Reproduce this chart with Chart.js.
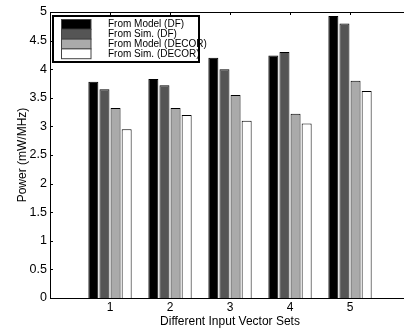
<!DOCTYPE html>
<html>
<head>
<meta charset="utf-8">
<script src="https://cdn.jsdelivr.net/npm/chart.js@4.4.0/dist/chart.umd.min.js"></script>
<style>
  html, body { margin: 0; padding: 0; background: #fff; overflow: hidden; }
  #wrap { width: 420px; height: 329px; }
</style>
</head>
<body>
<div id="wrap"><canvas id="canvasBar" width="420" height="329"></canvas></div>
<script>
// categories (x axis runs 0..6, so empty slots on both ends)
var categories = ['1', '2', '3', '4', '5'];
var seriesNames = ['From Model (DF)', 'From Sim. (DF)', 'From Model (DECOR)', 'From Sim. (DECOR)'];
var modelDF    = [3.78, 3.83, 4.20, 4.24, 4.93];
var simDF      = [3.65, 3.72, 4.00, 4.30, 4.80];
var modelDECOR = [3.32, 3.32, 3.55, 3.22, 3.80];
var simDECOR   = [2.95, 3.20, 3.10, 3.05, 3.62];
var yTicks = [0, 0.5, 1, 1.5, 2, 2.5, 3, 3.5, 4, 4.5, 5];

var fills = ['#000000', '#555555', '#aaaaaa', '#ffffff'];
var FONT = "'Liberation Sans', Arial, sans-serif";

function pad(arr) { return [null].concat(arr, [null]); }
var labels = [''].concat(categories, ['']);

// matlab style frame with inward ticks
var framePlugin = {
  id: 'frame',
  afterDatasetsDraw: function(chart) {
    var c = chart.ctx, a = chart.chartArea;
    var xs = chart.scales.x, ys = chart.scales.y;
    c.save();
    c.strokeStyle = '#000';
    c.lineWidth = 1;
    c.beginPath();
    c.moveTo(a.left + 0.5, a.top + 0.5); c.lineTo(a.left + 0.5, a.bottom + 0.5);
    c.moveTo(a.left, a.bottom + 0.5); c.lineTo(a.right, a.bottom + 0.5);
    c.moveTo(a.left, a.top + 0.5); c.lineTo(a.right, a.top + 0.5);
    c.moveTo(a.right - 0.5, a.top); c.lineTo(a.right - 0.5, a.bottom);
    yTicks.forEach(function(v) {
      var y = Math.round(ys.getPixelForValue(v)) + 0.5;
      c.moveTo(a.left, y); c.lineTo(a.left + 3, y);
      c.moveTo(a.right, y); c.lineTo(a.right - 3, y);
    });
    for (var i = 1; i <= categories.length; i++) {
      var x = Math.round(xs.getPixelForValue(i)) + 0.5;
      c.moveTo(x, a.top); c.lineTo(x, a.top + 3);
    }
    c.stroke();
    c.restore();
  },
  afterDraw: function(chart) {
    // legend box inside the plot
    var c = chart.ctx;
    var bx = 53, by = 16, bw = 146, bh = 46;
    c.save();
    c.fillStyle = '#fff';
    c.fillRect(bx, by, bw, bh);
    c.strokeStyle = '#000';
    c.lineWidth = 2;
    c.strokeRect(bx, by, bw, bh);
    c.font = '10px ' + FONT;
    c.textBaseline = 'middle';
    c.textAlign = 'left';
    chart.data.datasets.forEach(function(ds, i) {
      var sy = 19.5 + i * 9.8;
      c.fillStyle = ds.backgroundColor;
      c.fillRect(61.5, sy, 29.5, 9.8);
      c.strokeStyle = '#444';
      c.lineWidth = 1;
      c.strokeRect(61.5, sy, 29.5, 9.8);
      c.fillStyle = '#000';
      c.fillText(ds.label, 108, sy + 5.2);
    });
    c.restore();
  }
};

var ctx = document.getElementById('canvasBar').getContext('2d');
var barChart = new Chart(ctx, {
  type: 'bar',
  data: {
    labels: labels,
    datasets: [modelDF, simDF, modelDECOR, simDECOR].map(function(d, i) {
      return {
        label: seriesNames[i],
        data: pad(d),
        backgroundColor: fills[i],
        borderColor: '#000',
        borderWidth: 1,
        borderSkipped: 'start',
        categoryPercentage: 0.74,
        barPercentage: 0.9
      };
    })
  },
  plugins: [framePlugin],
  options: {
    responsive: false,
    animation: false,
    layout: { padding: { top: 12, right: 10, left: 0, bottom: 0 } },
    plugins: {
      legend: { display: false },
      tooltip: { enabled: false }
    },
    scales: {
      x: {
        offset: false,
        grid: { display: false, drawTicks: false },
        border: { display: false },
        ticks: { color: '#000', font: { family: FONT, size: 12 }, padding: 2, maxRotation: 0, autoSkip: false },
        title: { display: true, text: 'Different Input Vector Sets', color: '#000',
                 font: { family: FONT, size: 12 }, padding: { top: 0, bottom: 0 } },
        afterFit: function(s) { s.height = 31; }
      },
      y: {
        min: 0,
        max: 5,
        grid: { display: false, drawTicks: false },
        border: { display: false },
        afterBuildTicks: function(s) { s.ticks = yTicks.map(function(v) { return { value: v }; }); },
        ticks: { color: '#000', font: { family: FONT, size: 12.5 }, padding: 3,
                 callback: function(v) { return String(v); } },
        title: { display: true, text: 'Power (mW/MHz)', color: '#000',
                 font: { family: FONT, size: 12 }, padding: { top: 15, bottom: 0 } },
        afterFit: function(s) { s.width = 50; }
      }
    }
  }
});
</script>
</body>
</html>
